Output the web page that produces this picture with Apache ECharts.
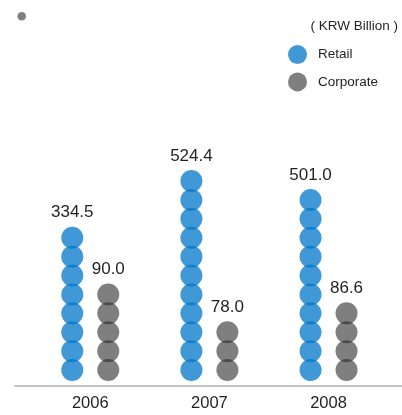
<!DOCTYPE html>
<html>
<head>
<meta charset="utf-8">
<script src="https://cdn.jsdelivr.net/npm/echarts@6/dist/echarts.min.js"></script>
<style>
    html, body { margin: 0; padding: 0; background: #fff; }
    #echart_1 { width: 402px; height: 415px; }
</style>
</head>
<body>
<div id="echart_1"></div>
<script>
// 数据
var years = ['2006', '2007', '2008']
var retailValues = [334.5, 524.4, 501.0]
var corporateValues = [90.0, 78.0, 86.6]
// 每根柱子的圆点个数
var retailDots = [8, 11, 10]
var corporateDots = [5, 3, 4]

var font = "'Liberation Sans', Arial, sans-serif"

function dotData(dots) {
    var rs = []
    for (var i = 0; i < dots.length; i++) {
        rs.push({ value: dots[i], symbolRepeat: dots[i], symbolBoundingData: dots[i] })
    }
    return rs
}

// 半透明圆点, 重叠处颜色变深
function dotSeries(name, color, dots, values) {
    return {
        name: name,
        type: 'pictorialBar',
        xAxisIndex: 0,
        yAxisIndex: 0,
        symbol: 'circle',
        symbolSize: [22, 22],
        symbolMargin: '0!',
        barWidth: 22,
        barGap: '63.6%',
        itemStyle: { color: color },
        label: {
            show: true,
            position: 'top',
            distance: 7,
            fontFamily: font,
            fontSize: 17,
            color: '#231f20',
            formatter: function(p) {
                return values[p.dataIndex].toFixed(1)
            }
        },
        data: dotData(dots)
    }
}

var myChart = echarts.init(document.getElementById('echart_1'));
myChart.setOption({
    animation: false,
    backgroundColor: '#fff',
    title: {
        text: '( KRW Billion )',
        right: 4,
        top: 19,
        padding: 0,
        textStyle: { fontFamily: font, fontSize: 13.5, fontWeight: 'normal', color: '#231f20' }
    },
    legend: {
        orient: 'vertical',
        left: 288,
        top: 45,
        padding: 0,
        itemWidth: 19,
        itemHeight: 19,
        itemGap: 8.4,
        icon: 'circle',
        textStyle: { fontFamily: font, fontSize: 13.5, color: '#231f20', padding: [0, 0, 0, 6] },
        data: ['Retail', 'Corporate']
    },
    graphic: [{
        type: 'circle',
        shape: { cx: 21.7, cy: 16.3, r: 4.3 },
        style: { fill: '#808080' }
    }],
    grid: [
        { left: 30.7, right: 13.9, top: 152.7, bottom: 35.5 },
        { left: 15, right: 0, top: 152.7, bottom: 29.5 }
    ],
    xAxis: [{
        type: 'category',
        gridIndex: 0,
        data: years,
        axisLine: { show: false },
        axisTick: { show: false },
        axisLabel: { margin: 15, fontFamily: font, fontSize: 16.5, color: '#231f20' }
    }, {
        type: 'category',
        gridIndex: 1,
        data: years,
        axisLine: { show: true, lineStyle: { color: '#c4c4c4', width: 2 } },
        axisTick: { show: false },
        axisLabel: { show: false }
    }],
    yAxis: [{
        type: 'value',
        gridIndex: 0,
        min: 0,
        max: 12,
        show: false
    }, {
        type: 'value',
        gridIndex: 1,
        show: false
    }],
    series: [
        dotSeries('Retail', 'rgba(0, 119, 200, 0.75)', retailDots, retailValues),
        dotSeries('Corporate', 'rgba(42, 42, 42, 0.6)', corporateDots, corporateValues)
    ]
});
</script>
</body>
</html>
